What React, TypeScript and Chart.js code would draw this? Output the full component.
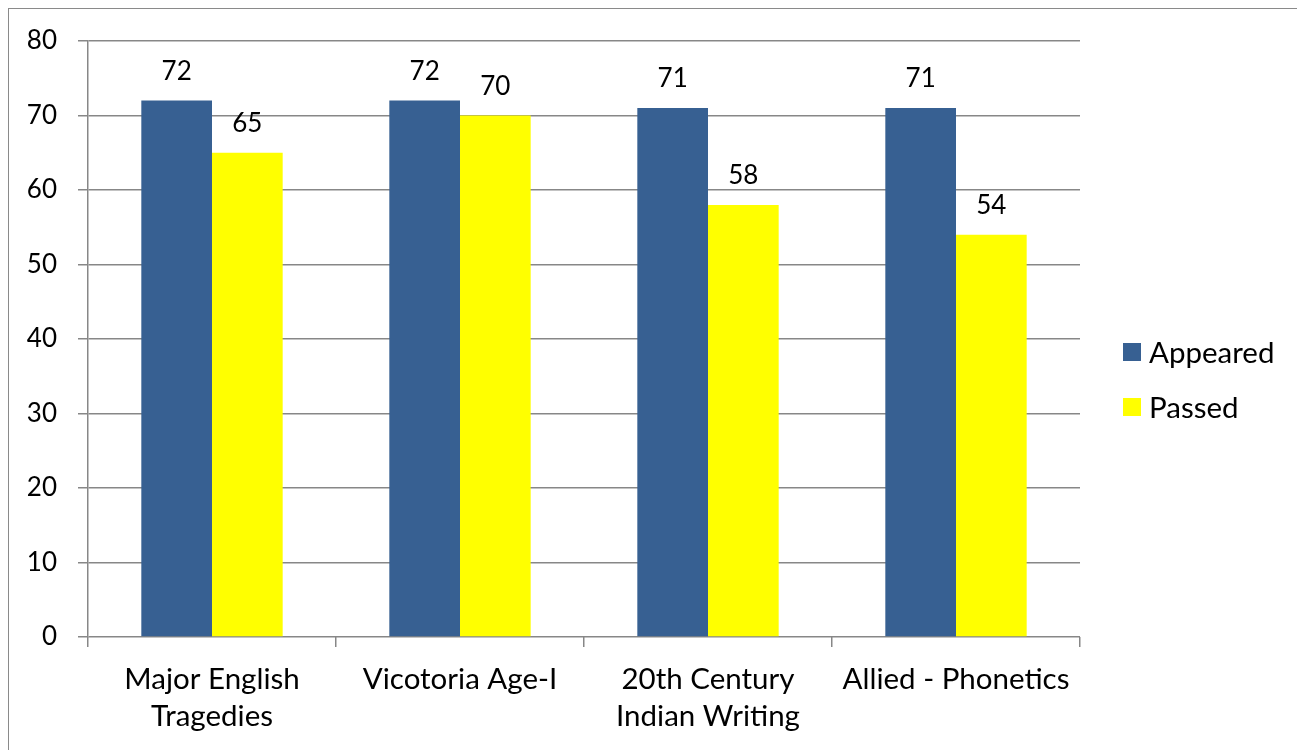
import React, { useEffect, useRef } from "react";
import { Chart, registerables } from "chart.js";

Chart.register(...registerables);

const categories: string[][] = [
  ["Major English", "Tragedies"],
  ["Vicotoria Age-I"],
  ["20th Century", "Indian Writing"],
  ["Allied - Phonetics"],
];
const appeared: number[] = [72, 72, 71, 71];
const passed: number[] = [65, 70, 58, 54];
const seriesNames: string[] = ["Appeared", "Passed"];
const yMin = 0;
const yMax = 80;
const yStep = 10;

const FONT = "Lato, 'Open Sans', sans-serif";
const NUM_SIZE = 26;
const TEXT_SIZE = 29.5;
const BLUE = "#376092";
const YELLOW = "#FFFF00";
const GRID = "#878787";

const valueLabels = {
  id: "valueLabels",
  afterDatasetsDraw(chart: any) {
    const ctx = chart.ctx;
    ctx.save();
    ctx.font = `${NUM_SIZE}px ${FONT}`;
    ctx.fillStyle = "#000";
    ctx.textAlign = "center";
    ctx.textBaseline = "middle";
    chart.data.datasets.forEach((ds: any, i: number) => {
      const meta = chart.getDatasetMeta(i);
      meta.data.forEach((bar: any, j: number) => {
        ctx.fillText(String(ds.data[j]), bar.x, bar.y - 29);
      });
    });
    ctx.restore();
  },
};

const sideLegend = {
  id: "sideLegend",
  afterDraw(chart: any) {
    const ctx = chart.ctx;
    const area = chart.chartArea;
    const x = area.right + 43;
    const cy = chart.height / 2;
    const gap = 55;
    ctx.save();
    ctx.font = `${TEXT_SIZE}px ${FONT}`;
    ctx.textBaseline = "middle";
    ctx.textAlign = "left";
    chart.data.datasets.forEach((ds: any, i: number) => {
      const y = cy - gap / 2 + i * gap;
      ctx.fillStyle = ds.backgroundColor;
      ctx.fillRect(x, y - 9, 18, 18);
      ctx.fillStyle = "#000";
      ctx.fillText(ds.label, x + 26, y + 1);
    });
    ctx.restore();
  },
};

export default function App() {
  const ref = useRef<HTMLCanvasElement | null>(null);
  useEffect(() => {
    if (!ref.current) return;
    const chart = new Chart(ref.current, {
      type: "bar",
      data: {
        labels: categories,
        datasets: [
          { label: seriesNames[0], data: appeared, backgroundColor: BLUE },
          { label: seriesNames[1], data: passed, backgroundColor: YELLOW },
        ],
      },
      options: {
        animation: false,
        responsive: false,
        maintainAspectRatio: false,
        layout: { padding: { left: 0, right: 222, top: 32, bottom: 0 } },
        plugins: {
          legend: { display: false },
          tooltip: { enabled: false },
        },
        datasets: {
          bar: { categoryPercentage: 0.57, barPercentage: 1 },
        },
        scales: {
          x: {
            offset: true,
            grid: {
              offset: true,
              drawOnChartArea: false,
              drawTicks: true,
              tickLength: 10,
              color: GRID,
              lineWidth: 1.5,
            },
            border: { display: false },
            ticks: {
              color: "#000",
              font: { family: FONT, size: TEXT_SIZE, lineHeight: "37px" },
              padding: 14,
              maxRotation: 0,
              autoSkip: false,
            },
            afterFit: (scale: any) => {
              scale.height = 113;
            },
          },
          y: {
            min: yMin,
            max: yMax,
            ticks: {
              stepSize: yStep,
              color: "#000",
              font: { family: FONT, size: NUM_SIZE, lineHeight: 0.8 },
              padding: 21,
            },
            grid: {
              color: GRID,
              lineWidth: 1.5,
              tickLength: 10,
              drawTicks: true,
            },
            border: { display: true, color: GRID, width: 1.5 },
            afterFit: (scale: any) => {
              scale.width = 79;
            },
          },
        },
      },
      plugins: [valueLabels, sideLegend],
    });
    return () => chart.destroy();
  }, []);

  return (
    <div
      style={{
        width: 1295,
        height: 760,
        border: "1px solid #8a8a8a",
        boxSizing: "border-box",
        background: "#fff",
      }}
    >
      <canvas ref={ref} width={1293} height={741} style={{ display: "block" }} />
    </div>
  );
}
